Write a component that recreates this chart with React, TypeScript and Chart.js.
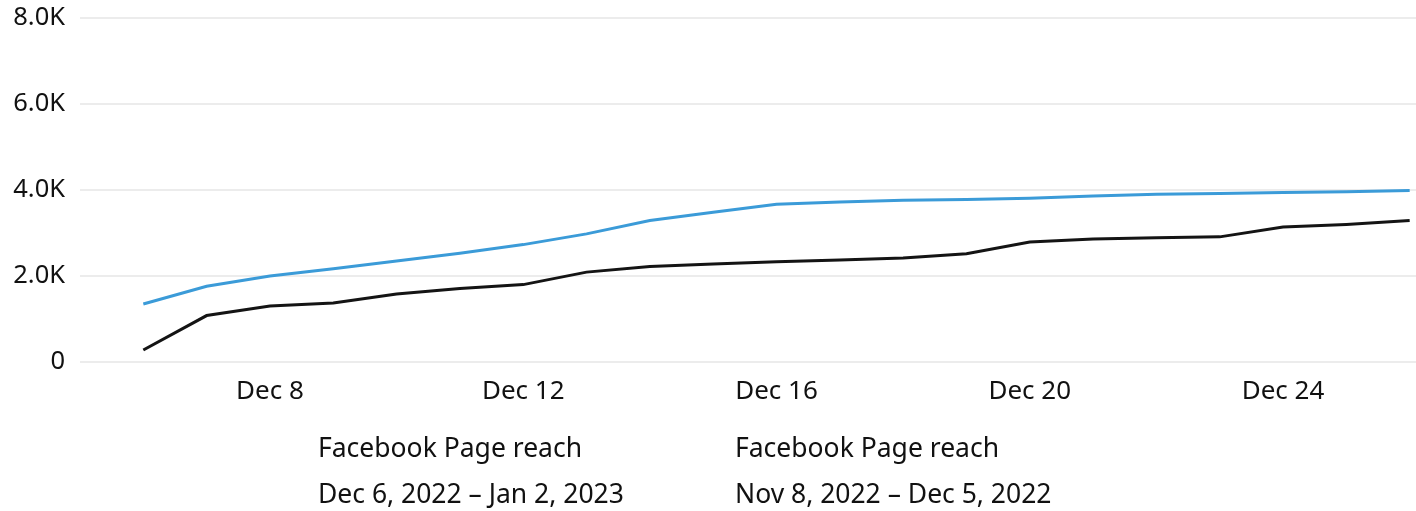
import React, { useEffect, useRef } from "react";
import { Chart, registerables } from "chart.js";

Chart.register(...registerables);

const days = [6, 7, 8, 9, 10, 11, 12, 13, 14, 15, 16, 17, 18, 19, 20, 21, 22, 23, 24, 25, 26];
const currentReach = [1350, 1760, 2000, 2170, 2350, 2530, 2730, 2980, 3290, 3480, 3670, 3720, 3760, 3780, 3810, 3860, 3900, 3920, 3940, 3960, 3990];
const previousReach = [280, 1080, 1300, 1370, 1580, 1710, 1800, 2090, 2220, 2280, 2330, 2370, 2420, 2520, 2790, 2860, 2890, 2910, 3140, 3200, 3290];
const tickDays = [8, 12, 16, 20, 24];
const yTicks = [0, 2000, 4000, 6000, 8000];
const legendItems = [
  { title: "Facebook Page reach", range: "Dec 6, 2022 – Jan 2, 2023" },
  { title: "Facebook Page reach", range: "Nov 8, 2022 – Dec 5, 2022" },
];

const FONT = "'Noto Sans', 'Open Sans', sans-serif";

export default function App() {
  const ref = useRef<HTMLCanvasElement | null>(null);

  useEffect(() => {
    document.body.style.margin = "0";
    const ctx = ref.current!;
    const chart = new Chart(ctx, {
      type: "line",
      data: {
        datasets: [
          {
            label: legendItems[1].range,
            data: days.map((d, i) => ({ x: d, y: previousReach[i] })),
            borderColor: "#141414",
            borderWidth: 3,
            pointRadius: 0,
            tension: 0,
            fill: false,
          },
          {
            label: legendItems[0].range,
            data: days.map((d, i) => ({ x: d, y: currentReach[i] })),
            borderColor: "#3b9bd8",
            borderWidth: 3,
            pointRadius: 0,
            tension: 0,
            fill: false,
          },
        ],
      },
      options: {
        animation: false,
        responsive: false,
        maintainAspectRatio: false,
        layout: { padding: { top: 18, left: 0, right: 0, bottom: 0 } },
        plugins: { legend: { display: false }, tooltip: { enabled: false } },
        scales: {
          x: {
            type: "linear",
            min: 5,
            max: 26.1,
            afterBuildTicks: (s: any) => {
              s.ticks = tickDays.map((v) => ({ value: v }));
            },
            afterFit: (s: any) => {
              s.height = 149;
              s.paddingLeft = 0;
              s.paddingRight = 0;
            },
            grid: { display: false, drawTicks: false },
            border: { display: false },
            ticks: {
              padding: 14,
              color: "#111",
              font: { family: FONT, size: 26 },
              maxRotation: 0,
              autoSkip: false,
              callback: (v: any) => "Dec " + v,
            },
          },
          y: {
            min: 0,
            max: 8000,
            afterBuildTicks: (s: any) => {
              s.ticks = yTicks.map((v) => ({ value: v }));
            },
            afterFit: (s: any) => {
              s.width = 80;
              s.paddingTop = 0;
              s.paddingBottom = 0;
            },
            grid: { color: "#ececec", lineWidth: 2, drawTicks: false },
            border: { display: false },
            ticks: {
              padding: 15,
              color: "#111",
              font: { family: FONT, size: 25.5 },
              callback: (v: any) => (v === 0 ? "0" : (v / 1000).toFixed(1) + "K"),
            },
          },
        },
      },
    });
    return () => chart.destroy();
  }, []);

  const textStyle: React.CSSProperties = {
    fontFamily: FONT,
    fontSize: 26.5,
    color: "#111",
    whiteSpace: "nowrap",
    lineHeight: "46px",
  };

  return (
    <div style={{ position: "relative", width: 1416, height: 511, overflow: "hidden", background: "#fff" }}>
      <canvas ref={ref} width={1416} height={511} style={{ position: "absolute", left: 0, top: 0, width: 1416, height: 511 }} />
      {legendItems.map((it, i) => (
        <div key={i} style={{ ...textStyle, position: "absolute", left: i === 0 ? 318 : 735, top: 424 }}>
          <div>{it.title}</div>
          <div>{it.range}</div>
        </div>
      ))}
    </div>
  );
}
